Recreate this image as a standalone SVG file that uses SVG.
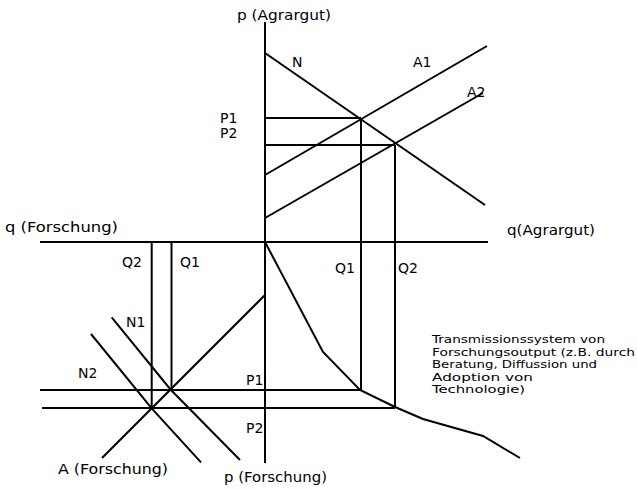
<svg xmlns="http://www.w3.org/2000/svg" width="637" height="489" viewBox="0 0 637 489">
<style>
.ln{stroke:#000;stroke-width:2;fill:none;stroke-linecap:butt;stroke-linejoin:miter}
.lb{font-family:"DejaVu Sans","Liberation Sans",sans-serif;font-size:14px;fill:#000}
.sm{font-family:"DejaVu Sans","Liberation Sans",sans-serif;font-size:10.5px;fill:#000}
</style>
<rect width="637" height="489" fill="#fff"/>
<g id="axes">
<line class="ln" x1="265" y1="22" x2="265" y2="463"/>
<line class="ln" x1="40" y1="242" x2="488" y2="242"/>
</g>
<g id="upper-market">
<line id="N" class="ln" x1="265" y1="53" x2="485" y2="205"/>
<line id="A1" class="ln" x1="265" y1="175" x2="487" y2="46"/>
<line id="A2" class="ln" x1="265" y1="218" x2="483" y2="93"/>
<line class="ln" x1="265" y1="118" x2="361" y2="118"/>
<line class="ln" x1="265" y1="145" x2="395" y2="145"/>
</g>
<g id="connectors">
<line class="ln" x1="361" y1="118" x2="361" y2="390"/>
<line class="ln" x1="395" y1="145" x2="395" y2="408"/>
<line class="ln" x1="171.5" y1="242" x2="171.5" y2="390"/>
<line class="ln" x1="151.7" y1="242" x2="151.7" y2="408"/>
<line class="ln" x1="40" y1="390" x2="361" y2="390"/>
<line class="ln" x1="42" y1="408" x2="395" y2="408"/>
</g>
<g id="research-market">
<line id="A-Forschung" class="ln" x1="265" y1="295" x2="102" y2="458"/>
<polyline id="N1" class="ln" points="111.7,317.3 170.5,389.5 240,460"/>
<polyline id="N2" class="ln" points="91,334 151.7,408.3 201,462.3"/>
</g>
<g id="transmission">
<polyline class="ln" points="265,242 323,352 360,390 395,407 423,419 483,436 520,458"/>
</g>
<g id="labels">
<text class="lb" x="237" y="20" textLength="94" lengthAdjust="spacingAndGlyphs">p (Agrargut)</text>
<text class="lb" x="292" y="67">N</text>
<text class="lb" x="413" y="67">A1</text>
<text class="lb" x="467" y="97">A2</text>
<text class="lb" x="220" y="123">P1</text>
<text class="lb" x="220" y="138">P2</text>
<text class="lb" x="5" y="232" textLength="113" lengthAdjust="spacingAndGlyphs">q (Forschung)</text>
<text class="lb" x="507" y="235" textLength="88" lengthAdjust="spacingAndGlyphs">q(Agrargut)</text>
<text class="lb" x="122" y="267">Q2</text>
<text class="lb" x="180" y="267">Q1</text>
<text class="lb" x="335" y="273">Q1</text>
<text class="lb" x="398" y="273">Q2</text>
<text class="lb" x="126" y="327">N1</text>
<text class="lb" x="78" y="378">N2</text>
<text class="lb" x="246" y="385">P1</text>
<text class="lb" x="246" y="433">P2</text>
<text class="lb" x="58" y="474" textLength="110" lengthAdjust="spacingAndGlyphs">A (Forschung)</text>
<text class="lb" x="224" y="482" textLength="103" lengthAdjust="spacingAndGlyphs">p (Forschung)</text>
</g>
<g id="note">
<text class="sm" x="432" y="343" textLength="173" lengthAdjust="spacingAndGlyphs">Transmissionssystem von</text>
<text class="sm" x="432" y="355.5" textLength="203" lengthAdjust="spacingAndGlyphs">Forschungsoutput (z.B. durch</text>
<text class="sm" x="432" y="368" textLength="165" lengthAdjust="spacingAndGlyphs">Beratung, Diffussion und</text>
<text class="sm" x="432" y="380.5" textLength="101" lengthAdjust="spacingAndGlyphs">Adoption von</text>
<text class="sm" x="432" y="393" textLength="93" lengthAdjust="spacingAndGlyphs">Technologie)</text>
</g>
</svg>
